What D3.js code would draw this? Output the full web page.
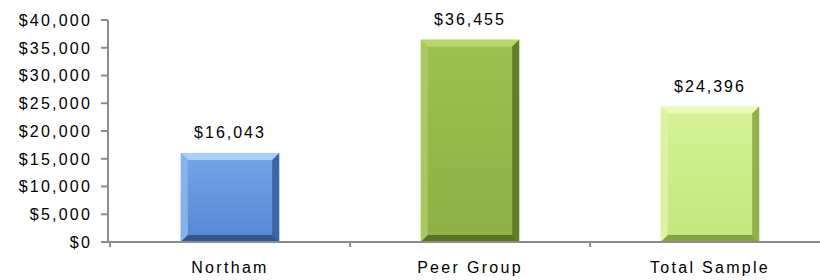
<!DOCTYPE html>
<html><head><meta charset="utf-8">
<script src="https://cdn.jsdelivr.net/npm/d3@7"></script>
<style>
body{margin:0;background:#fff;}
text{font-family:"Liberation Sans",Arial,sans-serif;fill:#000;}
</style></head>
<body>
<svg id="c" width="820" height="280"></svg>
<script>
const categories = ["Northam", "Peer Group", "Total Sample"];
const values = [16043, 36455, 24396];
const yTicks = [0, 5000, 10000, 15000, 20000, 25000, 30000, 35000, 40000];
const palettes = [
  {face1:"#74a6e8", face2:"#5586d2", top:"#aad0f8", left:"#86b2ee", right:"#3c65a6", bottom:"#33558a"},
  {face1:"#9fc052", face2:"#8eb044", top:"#bad66e", left:"#a9c860", right:"#627e28", bottom:"#5a7424"},
  {face1:"#d6f296", face2:"#c4e67c", top:"#ecfab8", left:"#dcf3a2", right:"#93b04e", bottom:"#86a346"}
];

const svg = d3.select("#c");
const m = {left:108, right:830, top:20, bottom:242};
const x = d3.scaleBand().domain(categories).range([m.left+2, m.right]).paddingInner(0.59).paddingOuter(0.295);
const y = d3.scaleLinear().domain([0, 40000]).range([m.bottom, m.top]);

const defs = svg.append("defs");
palettes.forEach((p,i)=>{
  const g = defs.append("linearGradient").attr("id","g"+i).attr("x1",0).attr("y1",0).attr("x2",0).attr("y2",1);
  g.append("stop").attr("offset","0%").attr("stop-color",p.face1);
  g.append("stop").attr("offset","100%").attr("stop-color",p.face2);
});

const fmt = d3.format("$,");
const b = 7;
const bars = svg.append("g").selectAll("g").data(values).join("g");
bars.each(function(v,i){
  const g = d3.select(this);
  const x0 = x(categories[i]), x1 = x0 + x.bandwidth();
  const y0 = y(v), y1 = y(0);
  const p = palettes[i];
  g.append("rect").attr("x",x0).attr("y",y0).attr("width",x1-x0).attr("height",y1-y0).attr("fill","url(#g"+i+")");
  const poly = (pts,c)=>g.append("polygon").attr("points",pts.map(d=>d.join(",")).join(" ")).attr("fill",c);
  poly([[x0,y0],[x1,y0],[x1-b,y0+b],[x0+b,y0+b]], p.top);
  poly([[x0,y0],[x0+b,y0+b],[x0+b,y1-b],[x0,y1]], p.left);
  poly([[x1,y0],[x1,y1],[x1-b,y1-b],[x1-b,y0+b]], p.right);
  poly([[x0,y1],[x0+b,y1-b],[x1-b,y1-b],[x1,y1]], p.bottom);
  g.append("text").attr("x",(x0+x1)/2).attr("y",y0-15).attr("text-anchor","middle")
    .style("font-size","16px").style("letter-spacing","2px").text(fmt(v));
});

// y axis
const ya = svg.append("g");
ya.append("line").attr("x1",m.left).attr("x2",m.left).attr("y1",y(40000)).attr("y2",y(0)).attr("stroke","#8c8c8c").attr("stroke-width",2);
ya.selectAll("line.t").data(yTicks).join("line").attr("class","t")
  .attr("x1",m.left-7).attr("x2",m.left).attr("y1",d=>y(d)).attr("y2",d=>y(d)).attr("stroke","#8c8c8c").attr("stroke-width",2);
ya.selectAll("text").data(yTicks).join("text")
  .attr("x",m.left-16).attr("y",d=>y(d)).attr("dy","0.36em").attr("text-anchor","end")
  .style("font-size","16px").style("letter-spacing","2.2px").text(d=>fmt(d));

// x axis
const xa = svg.append("g");
xa.append("line").attr("x1",m.left).attr("x2",820).attr("y1",y(0)).attr("y2",y(0)).attr("stroke","#8c8c8c").attr("stroke-width",2);
const step = x.step();
const bounds = categories.map((c,i)=>m.left+2+i*step);
xa.selectAll("line.t").data(bounds).join("line").attr("class","t")
  .attr("x1",d=>d).attr("x2",d=>d).attr("y1",y(0)).attr("y2",y(0)+5).attr("stroke","#8c8c8c").attr("stroke-width",2);
xa.selectAll("text").data(categories).join("text")
  .attr("x",d=>x(d)+x.bandwidth()/2).attr("y",273).attr("text-anchor","middle")
  .style("font-size","16px").style("letter-spacing","2.3px").text(d=>d);
</script>
</body></html>
